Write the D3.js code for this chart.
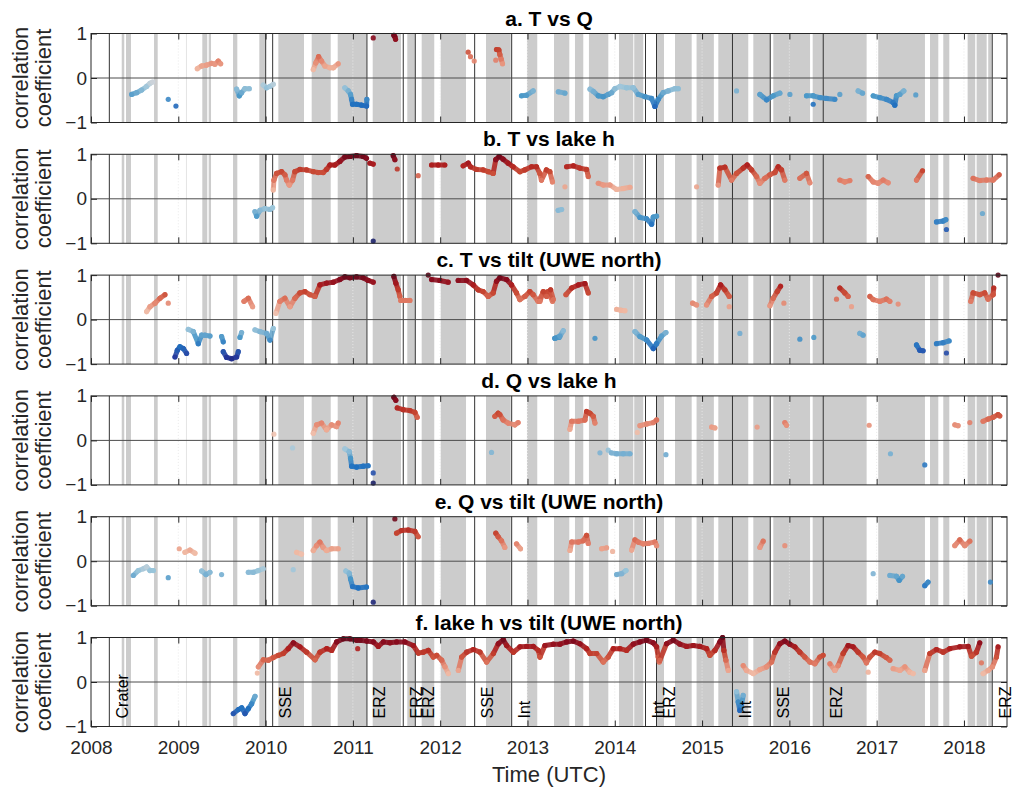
<!DOCTYPE html>
<html>
<head>
<meta charset="utf-8">
<script src="https://cdn.jsdelivr.net/npm/d3@7"></script>
<style>
  body { margin: 0; background: #fff; }
  svg { display: block; font-family: "Liberation Sans", Arial, Helvetica, sans-serif; }
</style>
</head>
<body>
<svg id="chart" width="1013" height="791"></svg>
<script>
// panel titles
var panelTitles = ["a. T vs Q", "b. T vs lake h", "c. T vs tilt (UWE north)",
                   "d. Q vs lake h", "e. Q vs tilt (UWE north)", "f. lake h vs tilt (UWE north)"];

var yearTicks = [2008, 2009, 2010, 2011, 2012, 2013, 2014, 2015, 2016, 2017, 2018];

// shaded periods (decimal years)
var bands = [
  [2008.352, 2008.381], [2008.401, 2008.458], [2008.722, 2008.764], [2009.088, 2009.094],
  [2009.275, 2009.332], [2009.348, 2009.375], [2009.627, 2009.676], [2009.928, 2009.997],
  [2010.146, 2010.440], [2010.528, 2010.746], [2010.826, 2011.158], [2011.227, 2011.551],
  [2011.623, 2011.711], [2011.788, 2011.932], [2012.006, 2012.296], [2012.525, 2012.808],
  [2012.994, 2013.112], [2013.304, 2013.479], [2013.544, 2013.639], [2013.704, 2013.926],
  [2014.048, 2014.212], [2014.223, 2014.326], [2014.480, 2014.564], [2014.690, 2014.881],
  [2014.937, 2015.135], [2015.186, 2015.529], [2015.587, 2015.778], [2015.816, 2016.237],
  [2016.267, 2016.885], [2017.018, 2017.553], [2017.611, 2017.706], [2017.763, 2017.832],
  [2018.042, 2018.129], [2018.145, 2018.260], [2018.278, 2018.317]
];

// events (decimal year) and their labels
var eventYears  = [2008.210, 2010.001, 2010.081, 2011.161, 2011.577, 2011.715, 2012.395, 2012.819,
                   2014.352, 2014.478, 2015.348, 2015.781, 2016.388, 2018.324];
var eventLabels = ["Crater", "", "SSE", "ERZ", "ERZ", "ERZ", "SSE", "Int",
                   "Int", "ERZ", "Int", "SSE", "ERZ", "ERZ"];

// correlation runs per panel: [year, coefficient]
var tVsQ = [
  [[2008.466,-0.37],[2008.523,-0.33],[2008.580,-0.27],[2008.637,-0.19],[2008.676,-0.12],[2008.706,-0.09]],
  [[2008.885,-0.48]], [[2008.973,-0.63]],
  [[2009.218,0.21],[2009.267,0.27],[2009.324,0.29],[2009.382,0.33],[2009.420,0.31],[2009.458,0.38],[2009.485,0.32]],
  [[2009.668,-0.25],[2009.699,-0.40],[2009.725,-0.33],[2009.763,-0.24],[2009.813,-0.24]],
  [[2009.973,-0.16],[2010.011,-0.22],[2010.050,-0.19],[2010.088,-0.14]],
  [[2010.546,0.19],[2010.576,0.34],[2010.607,0.48],[2010.641,0.38],[2010.680,0.27],[2010.737,0.23],[2010.775,0.23],[2010.832,0.32]],
  [[2010.908,-0.22],[2010.947,-0.29],[2010.973,-0.37],[2010.985,-0.48],[2010.996,-0.59],[2011.042,-0.59],[2011.099,-0.61],[2011.157,-0.63],[2011.160,-0.48]],
  [[2011.233,0.90]],
  [[2011.469,0.96],[2011.480,0.93],[2011.489,0.87]],
  [[2012.321,0.58]], [[2012.347,0.48]], [[2012.390,0.38]],
  [[2012.645,0.64],[2012.672,0.63],[2012.683,0.53],[2012.699,0.42],[2012.714,0.32]], [[2012.637,0.40]],
  [[2012.931,-0.40],[2012.988,-0.39],[2013.065,-0.29]],
  [[2013.353,-0.31],[2013.429,-0.34]],
  [[2013.716,-0.25],[2013.754,-0.30],[2013.811,-0.40],[2013.868,-0.42],[2013.925,-0.37],[2013.964,-0.33],[2014.002,-0.24],[2014.059,-0.19],[2014.135,-0.22],[2014.212,-0.22],[2014.269,-0.37],[2014.345,-0.42],[2014.422,-0.46],[2014.460,-0.64],[2014.498,-0.48],[2014.555,-0.33],[2014.612,-0.29],[2014.689,-0.24],[2014.727,-0.24]],
  [[2015.395,-0.29]],
  [[2015.662,-0.37],[2015.739,-0.49],[2015.815,-0.40],[2015.891,-0.34]], [[2016.006,-0.37]],
  [[2016.196,-0.40],[2016.273,-0.40],[2016.349,-0.44],[2016.425,-0.46],[2016.521,-0.48]], [[2016.273,-0.59]], [[2016.578,-0.37]],
  [[2016.788,-0.29],[2016.838,-0.34]],
  [[2016.960,-0.40],[2017.036,-0.44],[2017.112,-0.48],[2017.189,-0.55],[2017.208,-0.61],[2017.227,-0.40],[2017.265,-0.37],[2017.311,-0.29]],
  [[2017.448,-0.38]]
];

var tVsLake = [
  [[2009.878,-0.29],[2009.897,-0.39],[2009.935,-0.26],[2009.992,-0.22],[2010.050,-0.24],[2010.080,-0.20]],
  [[2010.088,0.20],[2010.095,0.42],[2010.126,0.57],[2010.183,0.61],[2010.221,0.54],[2010.240,0.42],[2010.271,0.31],[2010.309,0.42],[2010.336,0.61],[2010.393,0.66],[2010.469,0.65],[2010.546,0.61],[2010.603,0.59],[2010.660,0.59],[2010.698,0.66],[2010.737,0.76],[2010.794,0.76],[2010.851,0.84],[2010.908,0.94],[2010.966,0.95],[2011.042,0.97],[2011.118,0.95],[2011.156,0.91]],
  [[2011.195,0.80],[2011.233,0.78]], [[2011.233,-0.95]],
  [[2011.462,0.97],[2011.481,0.88]], [[2011.508,0.67]], [[2011.748,0.52]],
  [[2011.901,0.76],[2011.977,0.76],[2012.053,0.76]],
  [[2012.263,0.74],[2012.321,0.80],[2012.347,0.72],[2012.416,0.66],[2012.492,0.65],[2012.550,0.61],[2012.607,0.57],[2012.637,0.88],[2012.675,0.95],[2012.721,0.89],[2012.779,0.80],[2012.836,0.72],[2012.913,0.61],[2012.970,0.65],[2013.046,0.72],[2013.103,0.72],[2013.141,0.57],[2013.160,0.42],[2013.217,0.65],[2013.256,0.61],[2013.286,0.38]],
  [[2013.351,-0.26],[2013.391,-0.24]],
  [[2013.429,0.27]],
  [[2013.448,0.72],[2013.525,0.74],[2013.601,0.69],[2013.677,0.66],[2013.696,0.50]],
  [[2013.811,0.35],[2013.868,0.31],[2013.945,0.31],[2014.021,0.21],[2014.097,0.23],[2014.174,0.26]],
  [[2014.231,-0.29],[2014.288,-0.42],[2014.364,-0.45],[2014.422,-0.57],[2014.441,-0.41],[2014.479,-0.39]],
  [[2014.937,0.27]],
  [[2015.185,0.31],[2015.204,0.69],[2015.261,0.71],[2015.338,0.42],[2015.395,0.57],[2015.471,0.69],[2015.517,0.76],[2015.567,0.65],[2015.624,0.50],[2015.662,0.35],[2015.719,0.46],[2015.777,0.54],[2015.834,0.59],[2015.872,0.72],[2015.910,0.65],[2015.948,0.42]],
  [[2016.120,0.46],[2016.196,0.57],[2016.235,0.36]],
  [[2016.578,0.42],[2016.635,0.38],[2016.693,0.41]],
  [[2016.903,0.50],[2016.960,0.38],[2017.017,0.35],[2017.074,0.42],[2017.132,0.36]],
  [[2017.456,0.42],[2017.525,0.63]],
  [[2017.685,-0.52],[2017.761,-0.50],[2017.792,-0.47]], [[2017.799,-0.69]],
  [[2018.105,0.46],[2018.181,0.41],[2018.258,0.42],[2018.334,0.42],[2018.403,0.54]],
  [[2018.212,-0.33]]
];

var tVsTilt = [
  [[2008.637,0.18],[2008.676,0.29],[2008.733,0.37],[2008.790,0.48],[2008.847,0.56]], [[2008.885,0.37]],
  [[2008.962,-0.84],[2008.989,-0.69],[2009.019,-0.61],[2009.057,-0.65],[2009.095,-0.76]],
  [[2009.114,-0.22],[2009.172,-0.27],[2009.229,-0.54],[2009.267,-0.35],[2009.305,-0.35],[2009.363,-0.37]],
  [[2009.496,-0.38],[2009.515,-0.50]],
  [[2009.515,-0.72],[2009.553,-0.85],[2009.611,-0.88],[2009.668,-0.84],[2009.687,-0.72]],
  [[2009.706,-0.40],[2009.725,-0.29]],
  [[2009.752,0.41],[2009.802,0.48],[2009.851,0.29]],
  [[2009.878,-0.23],[2009.935,-0.27],[2010.011,-0.31],[2010.050,-0.46],[2010.088,-0.20]],
  [[2010.118,0.14],[2010.164,0.41],[2010.221,0.48],[2010.279,0.29],[2010.336,0.48],[2010.393,0.60],[2010.450,0.63],[2010.507,0.56],[2010.565,0.52],[2010.622,0.78],[2010.698,0.82],[2010.775,0.84],[2010.851,0.90],[2010.908,0.96],[2010.966,0.94],[2011.042,0.96],[2011.118,0.94],[2011.175,0.88],[2011.233,0.84]],
  [[2011.469,0.97],[2011.492,0.82],[2011.519,0.67],[2011.538,0.52]],
  [[2011.548,0.43],[2011.600,0.43],[2011.653,0.43]],
  [[2011.863,1.00]],
  [[2011.901,0.90],[2011.996,0.88],[2012.092,0.84]],
  [[2012.206,0.88],[2012.301,0.88],[2012.378,0.78],[2012.435,0.67],[2012.492,0.63],[2012.550,0.52],[2012.607,0.60],[2012.645,0.86],[2012.683,0.94],[2012.760,0.90],[2012.817,0.78],[2012.874,0.60],[2012.913,0.45],[2012.970,0.52],[2013.027,0.63],[2013.065,0.56],[2013.122,0.41],[2013.179,0.60],[2013.237,0.63],[2013.286,0.41]],
  [[2013.313,-0.42],[2013.362,-0.40]],
  [[2013.143,0.41],[2013.181,0.63],[2013.219,0.52],[2013.265,0.67],[2013.296,0.45]],
  [[2013.315,-0.42],[2013.372,-0.37],[2013.410,-0.25]],
  [[2013.441,0.56],[2013.506,0.71],[2013.582,0.78],[2013.658,0.81],[2013.696,0.60]],
  [[2013.773,-0.42]],
  [[2014.021,0.23],[2014.070,0.21],[2014.116,0.20]],
  [[2014.231,-0.27],[2014.288,-0.38],[2014.365,-0.46],[2014.441,-0.65],[2014.479,-0.54],[2014.536,-0.37],[2014.586,-0.29]],
  [[2014.891,0.37],[2014.937,0.33]],
  [[2015.051,0.33],[2015.109,0.52],[2015.166,0.60],[2015.212,0.78],[2015.261,0.67],[2015.311,0.52]], [[2015.311,0.29]],
  [[2015.433,-0.31]],
  [[2015.777,0.31],[2015.815,0.48],[2015.861,0.63],[2015.899,0.75]], [[2015.937,0.37]],
  [[2016.120,-0.44]], [[2016.280,-0.40]],
  [[2016.540,0.46]], [[2016.578,0.71],[2016.635,0.60],[2016.673,0.52]], [[2016.712,0.29]],
  [[2016.807,-0.31],[2016.845,-0.35]],
  [[2016.922,0.52],[2016.960,0.45],[2017.036,0.41],[2017.112,0.46],[2017.151,0.41]], [[2017.246,0.35]],
  [[2017.456,-0.57],[2017.494,-0.69],[2017.532,-0.70]],
  [[2017.685,-0.54],[2017.761,-0.52],[2017.830,-0.48]], [[2017.799,-0.75]],
  [[2018.078,0.41],[2018.105,0.60],[2018.181,0.56],[2018.238,0.60],[2018.276,0.46],[2018.334,0.56],[2018.341,0.71]],
  [[2018.391,1.00]]
];

var qVsLake = [
  [[2010.095,0.14]], [[2010.309,-0.17]],
  [[2010.546,0.16],[2010.584,0.35],[2010.641,0.39],[2010.698,0.24],[2010.756,0.35],[2010.813,0.31],[2010.832,0.39]],
  [[2010.908,-0.19],[2010.958,-0.25],[2010.973,-0.40],[2010.985,-0.58],[2011.042,-0.60],[2011.118,-0.58],[2011.175,-0.57]],
  [[2011.233,-0.73]], [[2011.233,-0.96]],
  [[2011.469,0.97],[2011.492,0.90]],
  [[2011.508,0.73],[2011.576,0.69],[2011.653,0.67],[2011.710,0.63],[2011.737,0.52]],
  [[2012.588,-0.27]],
  [[2012.626,0.54],[2012.664,0.61],[2012.683,0.58],[2012.721,0.46],[2012.779,0.39],[2012.855,0.35],[2012.893,0.40]],
  [[2013.486,0.25],[2013.506,0.43],[2013.582,0.43],[2013.658,0.46],[2013.677,0.65],[2013.716,0.61],[2013.754,0.54],[2013.773,0.39]],
  [[2013.830,-0.28]], [[2013.925,-0.22]],
  [[2013.960,-0.28],[2014.021,-0.30],[2014.097,-0.30],[2014.174,-0.30]],
  [[2014.258,0.18]],
  [[2014.288,0.33],[2014.364,0.37],[2014.441,0.40],[2014.479,0.46]],
  [[2014.586,-0.32]],
  [[2015.109,0.30],[2015.147,0.28]],
  [[2015.631,0.30]],
  [[2015.948,0.40],[2015.967,0.34]],
  [[2016.914,0.34]], [[2017.158,-0.30]], [[2017.551,-0.55]],
  [[2017.895,0.35],[2017.933,0.33]], [[2018.067,0.40]],
  [[2018.219,0.43],[2018.276,0.48],[2018.334,0.52],[2018.391,0.58],[2018.410,0.55]]
];

var qVsTilt = [
  [[2008.485,-0.32],[2008.542,-0.21],[2008.599,-0.17],[2008.637,-0.13],[2008.676,-0.21],[2008.714,-0.21]],
  [[2008.885,-0.37]],
  [[2009.011,0.28]], [[2009.076,0.20],[2009.134,0.25],[2009.191,0.18]],
  [[2009.267,-0.22],[2009.317,-0.30],[2009.363,-0.25]],
  [[2009.496,-0.30]],
  [[2009.802,-0.25],[2009.859,-0.25],[2009.916,-0.21],[2009.973,-0.17]],
  [[2010.317,-0.19]],
  [[2010.355,0.20],[2010.412,0.16]],
  [[2010.546,0.24],[2010.584,0.35],[2010.622,0.43],[2010.660,0.31],[2010.698,0.24],[2010.756,0.28],[2010.832,0.28]],
  [[2010.920,-0.22],[2010.958,-0.27],[2010.973,-0.40],[2010.996,-0.57],[2011.061,-0.60],[2011.156,-0.58]],
  [[2011.233,-0.92]], [[2011.481,0.95]],
  [[2011.500,0.63],[2011.557,0.69],[2011.634,0.70],[2011.710,0.67],[2011.748,0.55]],
  [[2012.637,0.63],[2012.664,0.55],[2012.702,0.46],[2012.740,0.31]],
  [[2012.874,0.39],[2012.920,0.28]],
  [[2013.487,0.24],[2013.506,0.43],[2013.582,0.43],[2013.639,0.46],[2013.677,0.58],[2013.696,0.40]],
  [[2013.849,0.28],[2013.906,0.30]], [[2013.975,0.22]],
  [[2014.021,-0.30],[2014.078,-0.28],[2014.128,-0.21]],
  [[2014.193,0.25],[2014.231,0.48],[2014.269,0.43],[2014.326,0.39],[2014.383,0.40],[2014.460,0.43],[2014.479,0.35]],
  [[2015.662,0.31],[2015.700,0.45]],
  [[2015.948,0.35]],
  [[2016.960,-0.28]],
  [[2017.151,-0.32],[2017.227,-0.34],[2017.258,-0.43],[2017.296,-0.34]],
  [[2017.551,-0.55],[2017.589,-0.47]],
  [[2017.895,0.35],[2017.952,0.48],[2018.009,0.35],[2018.067,0.45]],
  [[2018.303,-0.47]]
];

var lakeVsTilt = [
  [[2009.630,-0.71],[2009.688,-0.62],[2009.726,-0.58],[2009.764,-0.71],[2009.802,-0.60],[2009.840,-0.49],[2009.879,-0.32]],
  [[2009.905,0.20]],
  [[2009.917,0.34],[2009.974,0.50],[2010.031,0.49],[2010.089,0.55],[2010.146,0.60],[2010.203,0.64],[2010.260,0.75],[2010.318,0.88],[2010.394,0.79],[2010.470,0.67],[2010.566,0.50],[2010.623,0.67],[2010.700,0.75],[2010.757,0.71],[2010.814,0.90],[2010.890,0.97],[2010.967,0.97],[2011.043,0.94],[2011.081,0.94],[2011.158,0.92],[2011.234,0.90],[2011.291,0.80],[2011.349,0.90],[2011.425,0.88],[2011.501,0.90],[2011.597,0.90],[2011.692,0.82],[2011.750,0.65],[2011.807,0.67],[2011.864,0.71],[2011.921,0.56],[2011.960,0.60],[2012.017,0.49],[2012.055,0.34],[2012.094,0.19]],
  [[2011.055,0.75]],
  [[2012.208,0.26],[2012.246,0.56],[2012.303,0.67],[2012.380,0.73],[2012.456,0.67],[2012.532,0.45],[2012.609,0.64],[2012.666,0.86],[2012.723,0.95],[2012.761,0.82],[2012.838,0.67],[2012.914,0.79],[2012.990,0.80],[2013.067,0.80],[2013.124,0.71],[2013.143,0.56],[2013.200,0.82],[2013.296,0.85],[2013.372,0.85],[2013.448,0.90],[2013.525,0.92],[2013.601,0.86],[2013.677,0.75],[2013.716,0.64],[2013.792,0.64],[2013.868,0.45],[2013.925,0.56],[2013.983,0.75],[2014.059,0.75],[2014.135,0.71],[2014.212,0.85],[2014.288,0.90],[2014.364,0.94],[2014.441,0.88],[2014.479,0.79],[2014.498,0.56],[2014.509,0.45]],
  [[2014.517,0.49],[2014.593,0.86],[2014.670,0.94],[2014.746,0.85],[2014.822,0.80],[2014.899,0.82],[2014.975,0.80],[2015.052,0.75],[2015.090,0.60],[2015.147,0.71],[2015.204,0.90],[2015.235,1.00],[2015.250,0.71],[2015.273,0.49],[2015.300,0.26]],
  [[2015.395,-0.22],[2015.414,-0.45],[2015.433,-0.64],[2015.452,-0.52],[2015.471,-0.30]],
  [[2015.471,0.37],[2015.509,0.26],[2015.586,0.19],[2015.662,0.28],[2015.738,0.34],[2015.796,0.45],[2015.834,0.67],[2015.891,0.86],[2015.948,0.92],[2016.005,0.85],[2016.063,0.79],[2016.120,0.67],[2016.177,0.56],[2016.235,0.45],[2016.292,0.41],[2016.349,0.56],[2016.387,0.60]],
  [[2016.464,0.41],[2016.521,0.26],[2016.559,0.37],[2016.616,0.64],[2016.673,0.82],[2016.730,0.79],[2016.788,0.67],[2016.845,0.56],[2016.883,0.43],[2016.921,0.56],[2016.979,0.67],[2017.036,0.64],[2017.112,0.55],[2017.151,0.49]],
  [[2016.903,0.22]],
  [[2017.189,0.30],[2017.265,0.26],[2017.323,0.34],[2017.380,0.22],[2017.418,0.19]],
  [[2017.551,0.26],[2017.609,0.64],[2017.685,0.73],[2017.761,0.67],[2017.838,0.75],[2017.952,0.79],[2018.048,0.80],[2018.086,0.58],[2018.143,0.67],[2018.181,0.88]],
  [[2018.200,0.43]],
  [[2018.219,0.19],[2018.277,0.26],[2018.326,0.34],[2018.372,0.56],[2018.391,0.79]]
];

var panelData = [tVsQ, tVsLake, tVsTilt, qVsLake, qVsTilt, lakeVsTilt];

// ---------- layout ----------
var svg = d3.select("#chart");
var left = 91, right = 1007, panelTop = 33.5, panelStep = 120.8, panelH = 89;
var ink = "#262626";

var x = d3.scaleLinear().domain([2008, 2018.493]).range([left, right]);

var color = d3.scaleLinear()
  .domain([-1, -0.85, -0.6, -0.4, -0.2, 0, 0.2, 0.4, 0.6, 0.75, 0.9, 1])
  .range(["#1a1a55", "#253599", "#1f70c0", "#4a98c8", "#9cc6da", "#f0dcd6",
          "#efb8a2", "#e2806a", "#c94a35", "#b0201f", "#870b1e", "#5c0a1c"])
  .interpolate(d3.interpolateLab)
  .clamp(true);

panelData.forEach(function (runs, i) {
  var top = panelTop + i * panelStep;
  var y = d3.scaleLinear().domain([-1, 1]).range([top + panelH, top]);
  var g = svg.append("g");

  // shaded periods
  g.selectAll("rect.band").data(bands).enter().append("rect")
    .attr("x", function (d) { return x(d[0]); })
    .attr("width", function (d) { return x(d[1]) - x(d[0]); })
    .attr("y", top).attr("height", panelH)
    .attr("fill", "#cccccc");

  // dotted year grid
  g.selectAll("line.grid").data(yearTicks.slice(1)).enter().append("line")
    .attr("x1", function (d) { return x(d); }).attr("x2", function (d) { return x(d); })
    .attr("y1", top).attr("y2", top + panelH)
    .attr("stroke", "#e8e8e8").attr("stroke-dasharray", "1,2");

  // event lines
  g.selectAll("line.event").data(eventYears).enter().append("line")
    .attr("x1", function (d) { return x(d); }).attr("x2", function (d) { return x(d); })
    .attr("y1", top).attr("y2", top + panelH)
    .attr("stroke", "#333").attr("stroke-width", 1);

  // zero line
  g.append("line")
    .attr("x1", left).attr("x2", right)
    .attr("y1", y(0)).attr("y2", y(0))
    .attr("stroke", "#4d4d4d").attr("stroke-width", 1);

  // data runs
  runs.forEach(function (run) {
    for (var k = 1; k < run.length; k++) {
      g.append("line")
        .attr("x1", x(run[k - 1][0])).attr("y1", y(run[k - 1][1]))
        .attr("x2", x(run[k][0])).attr("y2", y(run[k][1]))
        .attr("stroke", color((run[k - 1][1] + run[k][1]) / 2))
        .attr("stroke-width", 5).attr("stroke-linecap", "round")
        .attr("opacity", 0.9);
    }
    g.selectAll(null).data(run).enter().append("circle")
      .attr("cx", function (d) { return x(d[0]); })
      .attr("cy", function (d) { return y(d[1]); })
      .attr("r", 2.6)
      .attr("fill", function (d) { return color(d[1]); })
      .attr("opacity", 0.9);
  });

  // box
  g.append("rect")
    .attr("x", left).attr("y", top).attr("width", right - left).attr("height", panelH)
    .attr("fill", "none").attr("stroke", ink).attr("stroke-width", 1);

  // y axis
  var yAxis = g.append("g").attr("transform", "translate(" + left + ",0)")
    .call(d3.axisLeft(y).tickValues([-1, 0, 1]).tickFormat(d3.format("d")).tickSize(-6).tickPadding(4));
  yAxis.select(".domain").remove();
  yAxis.selectAll("line").attr("stroke", ink);
  yAxis.selectAll("text").attr("fill", ink).style("font-size", "19px")
    .style("font-family", "'Liberation Sans', Arial, sans-serif");

  var yRight = g.append("g").attr("transform", "translate(" + right + ",0)")
    .call(d3.axisRight(y).tickValues([-1, 0, 1]).tickFormat("").tickSize(-6));
  yRight.select(".domain").remove();
  yRight.selectAll("line").attr("stroke", ink);

  // x ticks top and bottom
  var last = (i === panelData.length - 1);
  var xBottom = g.append("g").attr("transform", "translate(0," + (top + panelH) + ")")
    .call(d3.axisBottom(x).tickValues(yearTicks).tickSize(-6).tickPadding(14)
      .tickFormat(last ? d3.format("d") : ""));
  xBottom.select(".domain").remove();
  xBottom.selectAll("line").attr("stroke", ink);
  xBottom.selectAll("text").attr("fill", ink).style("font-size", "19px")
    .style("font-family", "'Liberation Sans', Arial, sans-serif");

  var xTop = g.append("g").attr("transform", "translate(0," + top + ")")
    .call(d3.axisTop(x).tickValues(yearTicks).tickSize(-6).tickFormat(""));
  xTop.select(".domain").remove();
  xTop.selectAll("line").attr("stroke", ink);

  // title
  g.append("text")
    .attr("x", (left + right) / 2).attr("y", top - 8)
    .attr("text-anchor", "middle")
    .style("font-size", "21px").style("font-weight", "bold").attr("fill", "#000")
    .text(panelTitles[i]);

  // y label
  var ly = g.append("text")
    .attr("transform", "translate(28," + (top + panelH / 2) + ") rotate(-90)")
    .attr("text-anchor", "middle").attr("fill", ink).style("font-size", "22px");
  ly.append("tspan").attr("x", 0).attr("dy", "0em").text("correlation");
  ly.append("tspan").attr("x", 0).attr("dy", "1.05em").text("coefficient");

  // event labels on last panel
  if (last) {
    g.selectAll("text.ev").data(eventYears).enter().append("text")
      .attr("transform", function (d) {
        return "translate(" + (x(d) + 18.5) + "," + (top + panelH - 8) + ") rotate(-90)";
      })
      .attr("fill", "#000").style("font-size", "16px")
      .text(function (d, j) { return eventLabels[j]; });
  }
});

svg.append("text")
  .attr("x", (left + right) / 2).attr("y", 782)
  .attr("text-anchor", "middle").attr("fill", ink).style("font-size", "22px")
  .text("Time (UTC)");
</script>
</body>
</html>
